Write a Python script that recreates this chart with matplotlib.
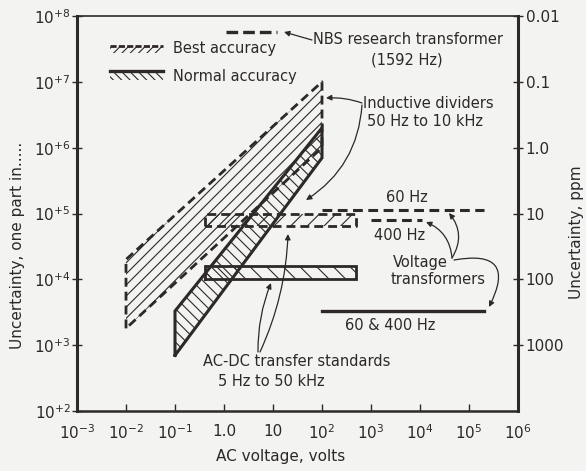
import matplotlib
matplotlib.use('Agg')
import matplotlib.pyplot as plt
from matplotlib.patches import Polygon

plt.rcParams['font.family'] = ['DejaVu Sans']
plt.rcParams['hatch.linewidth'] = 0.8

INK = '#2d2829'
BG = '#f3f3f1'

# ---------------- data ----------------
x_ticks = [1e-3, 1e-2, 1e-1, 1, 10, 1e2, 1e3, 1e4, 1e5, 1e6]
x_ticklabels = [r'$10^{-3}$', r'$10^{-2}$', r'$10^{-1}$', '1.0', '10',
                r'$10^{2}$', r'$10^{3}$', r'$10^{4}$', r'$10^{5}$', r'$10^{6}$']
y_ticks = [1e2, 1e3, 1e4, 1e5, 1e6, 1e7, 1e8]
y_ticklabels = [r'$10^{+2}$', r'$10^{+3}$', r'$10^{+4}$', r'$10^{+5}$',
                r'$10^{+6}$', r'$10^{+7}$', r'$10^{+8}$']
ppm_ticks = [1e8, 1e7, 1e6, 1e5, 1e4, 1e3]
ppm_labels = ['0.01', '0.1', '1.0', '10', '100', '1000']

# Inductive dividers (50 Hz to 10 kHz)
div_best_v = [0.01, 0.01, 100, 100]
div_best_u = [1.8e3, 2.0e4, 1.0e7, 1.0e6]
div_norm_v = [0.1, 0.1, 100, 100]
div_norm_u = [7.0e2, 3.3e3, 2.0e6, 7.0e5]
# AC-DC transfer standards (5 Hz to 50 kHz)
acdc_best_v = [0.4, 500]
acdc_best_u = [6.5e4, 1.0e5]
acdc_norm_v = [0.4, 500]
acdc_norm_u = [1.0e4, 1.6e4]
# Voltage transformers
vt60_v = [100, 2e5]
vt60_u = [1.15e5, 1.15e5]
vt400_v = [1e3, 1.1e4]
vt400_u = [8.0e4, 8.0e4]
vt_norm_v = [100, 2e5]
vt_norm_u = [3.3e3, 3.3e3]
# NBS research transformer (1592 Hz)
nbs_v = [1.1, 12]
nbs_u = [5.8e7, 5.8e7]

# ---------------- figure ----------------
fig = plt.figure(figsize=(5.86, 4.71), dpi=100)
fig.patch.set_facecolor(BG)
ax = fig.add_axes([77/586, (471-411)/471, 441/586, 395/471])
ax.set_facecolor(BG)
ax.set_xscale('log')
ax.set_yscale('log')
ax.set_xlim(1e-3, 1e6)
ax.set_ylim(1e2, 1e8)


def P(px, py):
    return ((px - 77) / 441, (411 - py) / 395)


def region(vs, us, hatch, dashed, lw=2.0):
    pts = list(zip(vs, us))
    ax.add_patch(Polygon(pts, closed=True, fill=False, hatch=hatch,
                         edgecolor=INK, linewidth=0, zorder=2))
    xs = list(vs) + [vs[0]]
    ys = list(us) + [us[0]]
    if dashed:
        ax.plot(xs, ys, color=INK, lw=lw, ls=(0, (3.2, 1.8)), zorder=3,
                solid_capstyle='butt', dash_capstyle='butt')
    else:
        ax.plot(xs, ys, color=INK, lw=lw, zorder=3, solid_joinstyle='miter')


def rect(v, u):
    return [v[0], v[0], v[1], v[1]], [u[0], u[1], u[1], u[0]]


region(div_best_v, div_best_u, '///', True, lw=2.0)
region(div_norm_v, div_norm_u, '\\\\\\', False, lw=2.2)
rv, ru = rect(acdc_best_v, acdc_best_u)
region(rv, ru, '//', True, lw=2.0)
rv, ru = rect(acdc_norm_v, acdc_norm_u)
region(rv, ru, '\\\\', False, lw=2.0)

ax.plot(vt60_v, vt60_u, color=INK, lw=2.2, ls=(0, (3.2, 1.8)), zorder=3)
ax.plot(vt400_v, vt400_u, color=INK, lw=2.2, ls=(0, (3.2, 1.8)), zorder=3)
ax.plot(vt_norm_v, vt_norm_u, color=INK, lw=2.4, zorder=3)
ax.plot(nbs_v, nbs_u, color=INK, lw=2.4, ls=(0, (3.5, 1.5)), zorder=3)

# ---------------- axes styling ----------------
for side, lw in [('left', 2.2), ('right', 2.2), ('bottom', 1.8), ('top', 1.2)]:
    ax.spines[side].set_linewidth(lw)
    ax.spines[side].set_color(INK)

ax.set_xticks(x_ticks)
ax.set_xticklabels(x_ticklabels, fontsize=11, color=INK)
ax.set_yticks(y_ticks)
ax.set_yticklabels(y_ticklabels, fontsize=11, color=INK)
ax.minorticks_off()
ax.tick_params(axis='x', direction='in', length=5, width=1, pad=9, colors=INK)
ax.tick_params(axis='y', direction='inout', length=7, width=1, pad=1, colors=INK)

ax2 = ax.twinx()
ax2.set_yscale('log')
ax2.set_ylim(1e2, 1e8)
ax2.set_yticks(ppm_ticks)
ax2.set_yticklabels(ppm_labels, fontsize=11, color=INK)
ax2.minorticks_off()
ax2.tick_params(axis='y', direction='inout', length=7, width=1, pad=2, colors=INK)
for s in ax2.spines.values():
    s.set_visible(False)

T = ax.transAxes
ax.text(*P(18, 245), 'Uncertainty, one part in.....', rotation=90,
        ha='center', va='center', fontsize=11, color=INK, transform=T)
ax.text(*P(576, 232), 'Uncertainty, ppm', rotation=90,
        ha='center', va='center', fontsize=11, color=INK, transform=T)
ax.text(*P(281, 457), 'AC voltage, volts', ha='center', va='center',
        fontsize=11, color=INK, transform=T)

# ---------------- legend ----------------
lx0, lx1 = P(110, 0)[0], P(163, 0)[0]
y_top1, y_bot1 = P(0, 46)[1], P(0, 53)[1]
y_top2, y_bot2 = P(0, 71)[1], P(0, 80)[1]
ax.add_patch(Polygon([(lx0, y_bot1), (lx0, y_top1), (lx1, y_top1), (lx1, y_bot1)],
                     closed=True, fill=False, hatch='////', edgecolor=INK,
                     linewidth=0, transform=T))
ax.plot([lx0, lx1], [y_top1, y_top1], color=INK, lw=2.0, ls=(0, (2.2, 0.8)),
        transform=T)
ax.add_patch(Polygon([(lx0, y_bot2), (lx0, y_top2), (lx1, y_top2), (lx1, y_bot2)],
                     closed=True, fill=False, hatch='\\\\\\\\', edgecolor=INK,
                     linewidth=0, transform=T))
ax.plot([lx0, lx1], [y_top2, y_top2], color=INK, lw=2.4, transform=T)
ax.text(*P(173, 49), 'Best accuracy', ha='left', va='center', fontsize=10.5,
        color=INK, transform=T)
ax.text(*P(173, 76), 'Normal accuracy', ha='left', va='center', fontsize=10.5,
        color=INK, transform=T)

# ---------------- annotations ----------------
fs = 10.5
ax.text(*P(313, 40), 'NBS research transformer', ha='left', va='center',
        fontsize=fs, color=INK, transform=T)
ax.text(*P(407, 60), '(1592 Hz)', ha='center', va='center', fontsize=fs,
        color=INK, transform=T)
ax.text(*P(363, 104), 'Inductive dividers', ha='left', va='center',
        fontsize=fs, color=INK, transform=T)
ax.text(*P(367, 122), '50 Hz to 10 kHz', ha='left', va='center',
        fontsize=fs, color=INK, transform=T)
ax.text(*P(407, 197), '60 Hz', ha='center', va='center', fontsize=fs,
        color=INK, transform=T)
ax.text(*P(400, 235), '400 Hz', ha='center', va='center', fontsize=fs,
        color=INK, transform=T)
ax.text(*P(393, 262), 'Voltage', ha='left', va='center', fontsize=fs,
        color=INK, transform=T)
ax.text(*P(391, 280), 'transformers', ha='left', va='center', fontsize=fs,
        color=INK, transform=T)
ax.text(*P(390, 325), '60 & 400 Hz', ha='center', va='center', fontsize=fs,
        color=INK, transform=T)
ax.text(*P(203, 362), 'AC-DC transfer standards', ha='left', va='center',
        fontsize=fs, color=INK, transform=T)
ax.text(*P(218, 382), '5 Hz to 50 kHz', ha='left', va='center',
        fontsize=fs, color=INK, transform=T)


def arrow(tail, tip, rad=0.0):
    ax.annotate('', xy=P(*tip), xytext=P(*tail), xycoords='axes fraction',
                textcoords='axes fraction',
                arrowprops=dict(arrowstyle='-|>', color=INK, lw=0.9,
                                mutation_scale=8, shrinkA=0, shrinkB=0,
                                connectionstyle=f'arc3,rad={rad}'))


arrow((312, 40), (284, 32), 0.0)
arrow((362, 103), (326, 98), 0.1)
arrow((362, 105), (306, 200), -0.25)
arrow((452, 258), (449, 213), 0.35)
arrow((452, 258), (426, 222), 0.3)
arrow((454, 260), (489, 307), -1.0)
arrow((258, 352), (271, 283), -0.1)
arrow((260, 352), (288, 234), 0.1)

fig.savefig('out.png', dpi=100, facecolor=BG)
